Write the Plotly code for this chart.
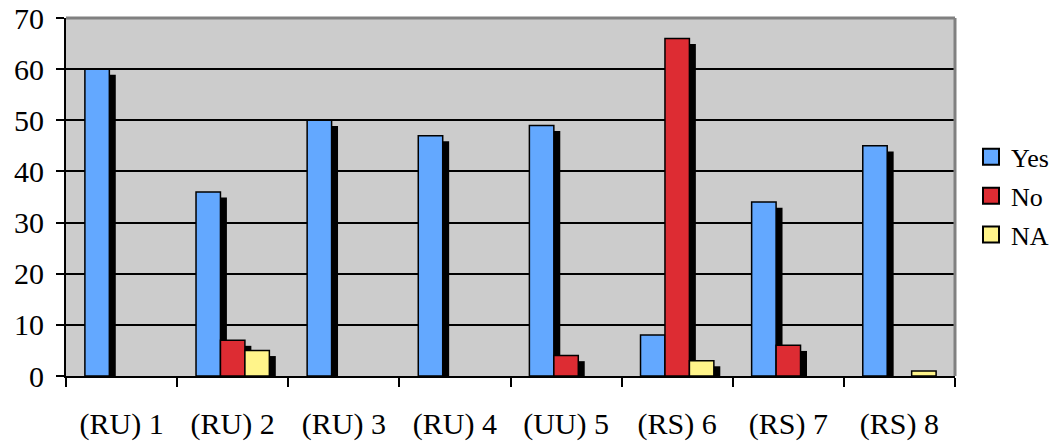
import plotly.graph_objects as go

categories = ["(RU) 1", "(RU) 2", "(RU) 3", "(RU) 4", "(UU) 5", "(RS) 6", "(RS) 7", "(RS) 8"]
yes_vals = [60, 36, 50, 47, 49, 8, 34, 45]
no_vals = [0, 7, 0, 0, 4, 66, 6, 0]
na_vals = [0, 5, 0, 0, 0, 3, 0, 1]
series_names = ["Yes", "No", "NA"]
y_ticks = [0, 10, 20, 30, 40, 50, 60, 70]

colors = ["#63A8FF", "#DD2C33", "#FFF48A"]
offsets = [-0.33, -0.11, 0.11]
bar_w = 0.22
shadow_dx = 0.058
shadow_dy = 1.1
FONT = "Liberation Serif"

fig = go.Figure()
series = [yes_vals, no_vals, na_vals]

# shadows
for vals, off in zip(series, offsets):
    sh = [v - shadow_dy if v > shadow_dy else None for v in vals]
    fig.add_trace(go.Bar(x=categories, y=sh, offset=off + shadow_dx, width=bar_w,
                         marker=dict(color="black", line=dict(width=0)),
                         showlegend=False, hoverinfo="skip"))
# bars
for name, vals, off, c in zip(series_names, series, offsets, colors):
    fig.add_trace(go.Bar(x=categories, y=[v if v > 0 else None for v in vals],
                         offset=off, width=bar_w, name=name,
                         marker=dict(color=c, line=dict(color="black", width=1.5)),
                         showlegend=False))
# legend entries
for name, c in zip(series_names, colors):
    fig.add_trace(go.Scatter(x=[None], y=[None], mode="markers", name=name,
                             legendgroup=name,
                             marker=dict(symbol="square", size=16, color=c,
                                         line=dict(color="black", width=2))))
# empty trace to carry the label axis
fig.add_trace(go.Scatter(x=[None], y=[None], mode="markers", yaxis="y2",
                         showlegend=False, hoverinfo="skip"))

fig.update_layout(
    width=1052, height=443,
    margin=dict(l=66, r=97, t=18, b=67, autoexpand=False),
    paper_bgcolor="white", plot_bgcolor="#CCCCCC",
    barmode="overlay",
    font=dict(family=FONT, color="black"),
    legend=dict(x=1.018, y=0.503, xanchor="left", yanchor="middle",
                font=dict(size=26, family=FONT), traceorder="grouped",
                tracegroupgap=2, itemwidth=30, bgcolor="rgba(0,0,0,0)"),
    shapes=[
        dict(type="line", xref="paper", yref="paper", x0=0, x1=1, y0=1, y1=1,
             line=dict(color="#808080", width=3), layer="above"),
        dict(type="line", xref="paper", yref="paper", x0=1, x1=1, y0=0, y1=1,
             line=dict(color="#808080", width=3), layer="above"),
    ],
    yaxis2=dict(overlaying="y", side="left", range=[0, 70], tickvals=y_ticks,
                showgrid=False, zeroline=False, showline=False,
                ticks="outside", ticklen=15, tickcolor="rgba(0,0,0,0)",
                tickfont=dict(size=30, family=FONT), automargin=False, fixedrange=True),
)
fig.update_xaxes(type="category", categoryorder="array", categoryarray=categories,
                 showline=True, linecolor="black", linewidth=2,
                 ticks="outside", tickson="boundaries", ticklen=9, tickwidth=2, tickcolor="black",
                 tickfont=dict(size=30, family=FONT), ticklabelstandoff=20,
                 showgrid=False, fixedrange=True, automargin=False)
fig.layout.yaxis.update(range=[0, 70], tickvals=y_ticks, showticklabels=False,
                        showline=True, linecolor="black", linewidth=2,
                        ticks="outside", ticklen=8, tickwidth=2, tickcolor="black",
                        showgrid=True, gridcolor="black", gridwidth=2, zeroline=False,
                        automargin=False, fixedrange=True)

fig.write_html("out.html", config={"displayModeBar": False},
               post_script="document.body.style.margin='0';document.body.style.overflow='hidden';")
